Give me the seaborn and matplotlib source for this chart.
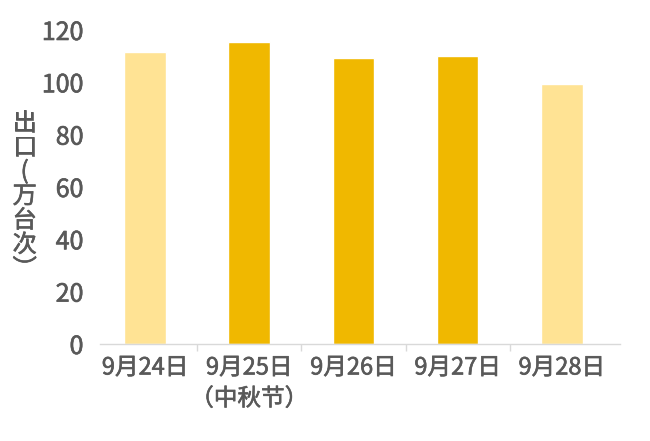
import matplotlib
matplotlib.use("Agg")
import matplotlib.pyplot as plt
import matplotlib.patheffects as pe
import seaborn as sns

# data
dates = ["9月24日", "9月25日\n（中秋节）", "9月26日", "9月27日", "9月28日"]
exits = [111.5, 115.5, 109.4, 110.2, 99.4]
bar_colors = ["#FFE394", "#F0B800", "#F0B800", "#F0B800", "#FFE394"]
y_ticks = [0, 20, 40, 60, 80, 100, 120]
y_label = "出\n口\n(\n万\n台\n次\n︶"

text_color = "#595959"
line_color = "#D9D9D9"
# the reference uses a medium weight, thicken the regular glyphs a little
thick = [pe.withStroke(linewidth=0.45, foreground=text_color)]

sns.set_theme(style="white")
plt.rcParams["font.family"] = ["Noto Sans CJK SC", "DejaVu Sans"]

fig = plt.figure(figsize=(6.5, 4.41), dpi=100)
ax = fig.add_axes([0.154, 0.22, 0.8, 0.712])

sns.barplot(x=dates, y=exits, hue=dates, palette=bar_colors, width=0.4,
            legend=False, saturation=1, ax=ax)

ax.set_xlim(-0.432, 4.56)
ax.set_ylim(0, 120)
ax.set_yticks(y_ticks)
ax.set_yticklabels([str(t) for t in y_ticks], fontsize=18, color=text_color)
ax.tick_params(axis="y", length=0, pad=12)
ax.set_xticks(range(len(dates)))
ax.set_xticklabels(dates, fontsize=17, color=text_color, linespacing=1.45)
ax.tick_params(axis="x", which="major", length=0, pad=9)
ax.set_xticks([0.5, 1.5, 2.5, 3.5], minor=True)
ax.tick_params(axis="x", which="minor", length=5, width=1, color=line_color,
               bottom=True, direction="out")
for lbl in ax.get_xticklabels() + ax.get_yticklabels():
    lbl.set_path_effects(thick)

for side in ["top", "right", "left"]:
    ax.spines[side].set_visible(False)
ax.spines["bottom"].set_color(line_color)
ax.spines["bottom"].set_linewidth(1)
ax.set_xlabel("")
ax.set_ylabel("")
ax.grid(False)

fig.text(0.038, 0.555, y_label, fontsize=17.5, color=text_color,
         ha="center", va="center", linespacing=0.92, path_effects=thick)

fig.savefig("out.png", dpi=100)
